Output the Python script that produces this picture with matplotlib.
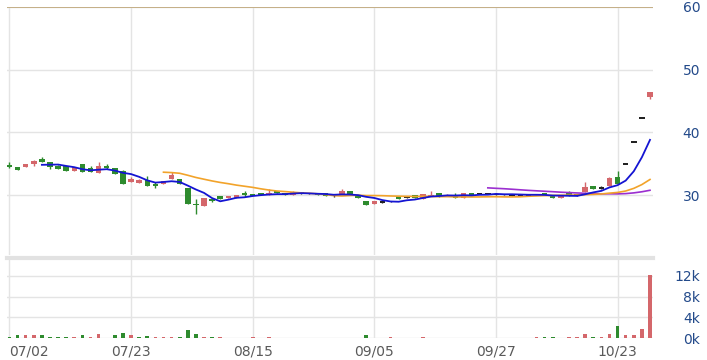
import matplotlib
matplotlib.use('Agg')
import matplotlib.pyplot as plt
import numpy as np
import pandas as pd

# fechas marcadas en el eje x (índice de sesión -> etiqueta)
tick_pos = [0, 15, 30, 45, 60, 75]
tick_labels = ['07/02', '07/23', '08/15', '09/05', '09/27', '10/23']

# OHLC
opens = [34.8, 34.4, 34.4, 35.0, 35.7, 35.3, 34.6, 34.7, 33.9, 35.0,
         34.3, 33.5, 34.7, 34.3, 33.8, 32.1, 31.9, 32.4, 31.7, 31.8,
         32.5, 32.5, 31.2, 28.7, 28.2, 29.4, 29.9, 29.5, 29.6, 30.3,
         30.1, 30.4, 30.0, 30.7, 30.4, 30.0, 30.3, 30.2, 30.3, 30.3,
         29.9, 30.0, 30.6, 29.95, 29.1, 28.5, 28.9, 29.0, 29.8, 29.6,
         29.95, 29.4, 29.95, 30.3, 29.95, 30.05, 29.5, 30.4, 30.2, 30.2,
         30.1, 30.1, 30.0, 30.0, 30.0, 30.1, 30.3, 29.9, 29.5, 30.45,
         30.0, 30.45, 31.4, 31.1, 31.5, 32.9, 34.95, 38.45, 42.3, 45.6]
highs = [35.2, 34.4, 35.0, 35.6, 36.1, 35.3, 34.8, 34.7, 34.5, 35.0,
         34.6, 35.2, 35.0, 34.3, 34.0, 32.9, 32.5, 33.0, 32.0, 32.3,
         33.6, 32.5, 31.2, 29.3, 29.6, 29.6, 29.9, 29.9, 30.0, 30.6,
         30.2, 30.4, 30.9, 30.7, 30.4, 30.6, 30.5, 30.3, 30.3, 30.3,
         30.0, 31.0, 30.6, 29.95, 29.1, 29.0, 29.1, 29.1, 29.8, 29.7,
         29.95, 30.2, 30.6, 30.3, 30.1, 30.3, 30.4, 30.4, 30.3, 30.3,
         30.2, 30.2, 30.1, 30.1, 30.1, 30.2, 30.3, 29.9, 29.9, 30.6,
         30.1, 32.1, 31.4, 31.4, 32.9, 33.8, 34.95, 38.45, 42.3, 46.5]
lows = [34.3, 34.0, 34.4, 34.7, 35.2, 34.2, 34.1, 33.9, 33.9, 33.6,
        33.6, 33.5, 34.2, 33.4, 31.8, 32.1, 31.9, 31.5, 31.2, 31.8,
        32.5, 31.8, 28.6, 27.0, 28.2, 28.9, 29.3, 29.5, 29.6, 29.7,
        30.0, 30.0, 30.0, 30.3, 30.0, 30.0, 30.2, 30.1, 30.0, 29.8,
        29.7, 30.0, 30.1, 29.5, 28.45, 28.5, 28.7, 28.9, 29.3, 29.5,
        29.6, 29.4, 29.95, 29.7, 29.95, 29.5, 29.5, 30.0, 30.1, 30.1,
        30.0, 30.0, 29.9, 29.9, 29.9, 30.0, 30.0, 29.5, 29.5, 29.9,
        29.9, 30.45, 31.0, 30.9, 31.5, 31.8, 34.95, 38.45, 42.3, 45.3]
closes = [34.4, 34.0, 35.0, 35.5, 35.2, 34.5, 34.1, 33.9, 34.5, 33.6,
          33.6, 34.6, 34.3, 33.4, 31.8, 32.6, 32.4, 31.5, 31.6, 32.3,
          33.2, 31.8, 28.6, 28.5, 29.6, 29.0, 29.3, 29.9, 30.0, 30.0,
          30.0, 30.0, 30.4, 30.3, 30.0, 30.5, 30.3, 30.2, 30.0, 29.8,
          29.9, 30.6, 30.1, 29.5, 28.45, 29.0, 28.9, 29.0, 29.3, 29.6,
          29.6, 30.15, 30.15, 29.7, 30.1, 29.5, 30.4, 30.0, 30.2, 30.2,
          30.1, 30.1, 30.0, 30.0, 30.0, 30.1, 30.0, 29.5, 29.9, 29.9,
          30.0, 31.3, 31.0, 31.1, 32.65, 31.8, 34.95, 38.45, 42.3, 46.5]
# volumen en miles
volumes = [0.25, 0.5, 0.5, 0.5, 0.5, 0.15, 0.15, 0.15, 0.15, 0.5,
           0.15, 0.75, 0.05, 0.5, 1.0, 0.5, 0.15, 0.45, 0.15, 0.15,
           0.15, 0.15, 1.5, 0.75, 0.2, 0.15, 0.15, 0.05, 0.05, 0.05,
           0.1, 0.05, 0.1, 0.05, 0.03, 0.03, 0.03, 0.03, 0.03, 0.03,
           0.03, 0.03, 0.03, 0.03, 0.5, 0.03, 0.03, 0.1, 0.05, 0.03,
           0.03, 0.1, 0.03, 0.03, 0.03, 0.03, 0.03, 0.03, 0.03, 0.03,
           0.08, 0.03, 0.03, 0.03, 0.03, 0.2, 0.2, 0.2, 0.05, 0.2,
           0.2, 0.7, 0.25, 0.2, 0.7, 2.25, 0.5, 0.5, 1.7, 12.2]

ROJO = '#d4676b'
VERDE = '#2e8b2e'

def main():
    n = len(closes)
    x = np.arange(n)
    o = np.array(opens); h = np.array(highs); l = np.array(lows); c = np.array(closes)

    cols = [ROJO if c[i] > o[i] else (VERDE if c[i] < o[i] else '#222222') for i in range(n)]
    vcols = [VERDE if i == 0 or c[i] < c[i - 1] else ROJO for i in range(n)]

    s = pd.Series(closes)
    ma5 = s.rolling(5).mean()
    ma20 = s.rolling(20).mean()
    ma60 = s.rolling(60).mean()

    fig = plt.figure(figsize=(7.07, 3.6), dpi=100)
    W, H = 707.0, 360.0
    left, right = 7, 653
    ax = fig.add_axes([left / W, 1 - 255 / H, (right - left) / W, 248 / H])
    axv = fig.add_axes([left / W, 1 - 338 / H, (right - left) / W, 80 / H])

    xlim = (-0.3, 79.37)

    # --- panel de precios ---
    ax.vlines(x, l, h, colors=cols, lw=1, zorder=3)
    alto = np.maximum(np.abs(c - o), 0.22)
    base = np.minimum(o, c) - np.where(np.abs(c - o) < 0.22, 0.11, 0)
    ax.bar(x, alto, bottom=base, width=0.68, color=cols, zorder=4)

    ax.plot(x, ma60, color='#9b2fd0', lw=1.2, zorder=5)
    ax.plot(x, ma20, color='#f2a32a', lw=1.2, zorder=5)
    ax.plot(x, ma5, color='#1414d2', lw=1.3, zorder=6)

    ax.axhline(60, color='#c2ab80', lw=1.3, zorder=2)
    ax.set_xlim(*xlim)
    ax.set_ylim(20.43, 60)
    ax.set_xticks(tick_pos)
    ax.set_xticklabels([])
    ax.set_yticks([30, 40, 50, 60])
    ax.yaxis.tick_right()
    ax.tick_params(axis='both', length=0)
    ax.tick_params(axis='y', pad=34, labelcolor='#234a8a', labelsize=10)
    for lbl in ax.get_yticklabels():
        lbl.set_horizontalalignment('right')
    ax.grid(True, color='#e4e4e4', lw=1, zorder=0)
    for sp in ax.spines.values():
        sp.set_visible(False)

    # --- panel de volumen ---
    axv.bar(x, volumes, width=0.45, color=vcols, zorder=3)
    axv.set_xlim(*xlim)
    axv.set_ylim(0, 15.47)
    axv.set_yticks([0, 4, 8, 12])
    axv.set_yticklabels(['0k', '4k', '8k', '12k'])
    axv.yaxis.tick_right()
    axv.set_xticks(tick_pos)
    axv.set_xticklabels(tick_labels)
    axv.tick_params(axis='both', length=0)
    axv.tick_params(axis='y', pad=34, labelcolor='#234a8a', labelsize=10)
    axv.tick_params(axis='x', pad=4.5, labelcolor='#5a5a5a', labelsize=10)
    for lbl in axv.get_yticklabels():
        lbl.set_horizontalalignment('right')
    axv.get_xticklabels()[0].set_horizontalalignment('left')
    axv.grid(True, color='#e4e4e4', lw=1, zorder=0)
    for sp in axv.spines.values():
        sp.set_visible(False)
    axv.spines['top'].set_visible(True)
    axv.spines['top'].set_color('#e2e2e2')
    axv.spines['top'].set_linewidth(3)

    fig.savefig('out.png', dpi=100)


if __name__ == "__main__":
    main()
